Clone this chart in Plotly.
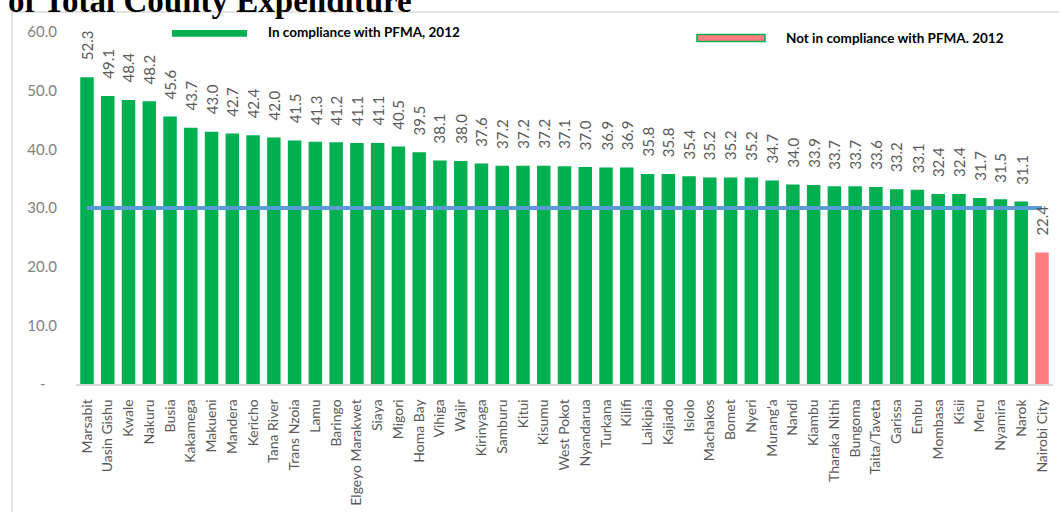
import plotly.graph_objects as go

counties = ["Marsabit", "Uasin Gishu", "Kwale", "Nakuru", "Busia", "Kakamega", "Makueni",
            "Mandera", "Kericho", "Tana River", "Trans Nzoia", "Lamu", "Baringo",
            "Elgeyo Marakwet", "Siaya", "Migori", "Homa Bay", "Vihiga", "Wajir", "Kirinyaga",
            "Samburu", "Kitui", "Kisumu", "West Pokot", "Nyandarua", "Turkana", "Kilifi",
            "Laikipia", "Kajiado", "Isiolo", "Machakos", "Bomet", "Nyeri", "Murang'a", "Nandi",
            "Kiambu", "Tharaka Nithi", "Bungoma", "Taita/Taveta", "Garissa", "Embu", "Mombasa",
            "Kisii", "Meru", "Nyamira", "Narok", "Nairobi City"]
shares = [52.3, 49.1, 48.4, 48.2, 45.6, 43.7, 43.0, 42.7, 42.4, 42.0, 41.5, 41.3, 41.2,
          41.1, 41.1, 40.5, 39.5, 38.1, 38.0, 37.6, 37.2, 37.2, 37.2, 37.1, 37.0, 36.9, 36.9,
          35.8, 35.8, 35.4, 35.2, 35.2, 35.2, 34.7, 34.0, 33.9, 33.7, 33.7, 33.6, 33.2, 33.1,
          32.4, 32.4, 31.7, 31.5, 31.1, 22.4]
threshold = 30.0
y_ticks = [0, 10, 20, 30, 40, 50, 60]
y_ticktext = ["-\u00a0\u00a0\u00a0", "10.0", "20.0", "30.0", "40.0", "50.0", "60.0"]
legend_in = "In compliance with PFMA, 2012"
legend_out = "Not in compliance with PFMA. 2012"
title_text = "of Total County Expenditure"

GREEN = "#00B050"
RED = "#FF7C80"
BLUE = "#5B9BD5"

W, H = 1059, 512
L, R, T, B = 76, 6, 32, 128
pw, ph = W - L - R, H - T - B


def px(x):
    return (x - L) / pw


def py(y):
    return (H - B - y) / ph


colors = [GREEN if v >= threshold else RED for v in shares]

fig = go.Figure()
fig.add_trace(go.Bar(x=counties, y=shares, marker=dict(color=colors, line=dict(width=0)),
                     showlegend=False, hoverinfo="x+y"))
fig.add_trace(go.Scatter(x=counties, y=[threshold] * len(counties), mode="lines",
                         line=dict(color=BLUE, width=4), showlegend=False))

annotations = []
for c, v in zip(counties, shares):
    annotations.append(dict(x=c, y=v, xref="x", yref="y", text=f"{v:.1f}", showarrow=False,
                            textangle=-90, yanchor="bottom", xanchor="center", yshift=15,
                            font=dict(family="Lato", size=15, color="#595959")))

# title fragment cut at top
annotations.append(dict(x=px(6), y=py(1), xref="paper", yref="paper", text=title_text,
                        showarrow=False, xanchor="left", yanchor="middle",
                        font=dict(family="Liberation Serif", size=33, color="black",
                                  weight="bold")))
# legend texts
annotations.append(dict(x=px(266), y=py(32), xref="paper", yref="paper", text=legend_in,
                        showarrow=False, xanchor="left", yanchor="middle",
                        font=dict(family="Lato", size=13.5, color="black", weight="bold")))
annotations.append(dict(x=px(784), y=py(38.5), xref="paper", yref="paper", text=legend_out,
                        showarrow=False, xanchor="left", yanchor="middle",
                        font=dict(family="Lato", size=13.5, color="black", weight="bold")))

shapes = [
    # outer chart frame
    dict(type="rect", xref="paper", yref="paper", x0=px(12), x1=px(1080), y0=py(530), y1=py(12),
         line=dict(color="#D9D9D9", width=1.5), fillcolor="rgba(0,0,0,0)", layer="below"),
    # legend swatches
    dict(type="rect", xref="paper", yref="paper", x0=px(172), x1=px(247), y0=py(36.7), y1=py(30),
         line=dict(width=0), fillcolor=GREEN),
    dict(type="rect", xref="paper", yref="paper", x0=px(697), x1=px(765), y0=py(41.5), y1=py(34.5),
         line=dict(color=GREEN, width=1.5), fillcolor=RED),
]

fig.update_layout(
    width=W, height=H,
    margin=dict(l=L, r=R, t=T, b=B),
    paper_bgcolor="white", plot_bgcolor="white",
    bargap=0.35,
    annotations=annotations, shapes=shapes,
    xaxis=dict(type="category", tickangle=-90, showgrid=False, showline=True,
               linecolor="#D9D9D9", linewidth=1.5, ticks="",
               tickfont=dict(family="Lato", size=14, color="#595959"),
               ticklabelstandoff=8),
    yaxis=dict(range=[0, 60], tickvals=y_ticks, ticktext=y_ticktext, showgrid=False,
               showline=False, zeroline=False, ticks="",
               tickfont=dict(family="Lato", size=15, color="#7F7F7F"),
               ticklabelstandoff=18),
)

fig.write_html("out.html")
